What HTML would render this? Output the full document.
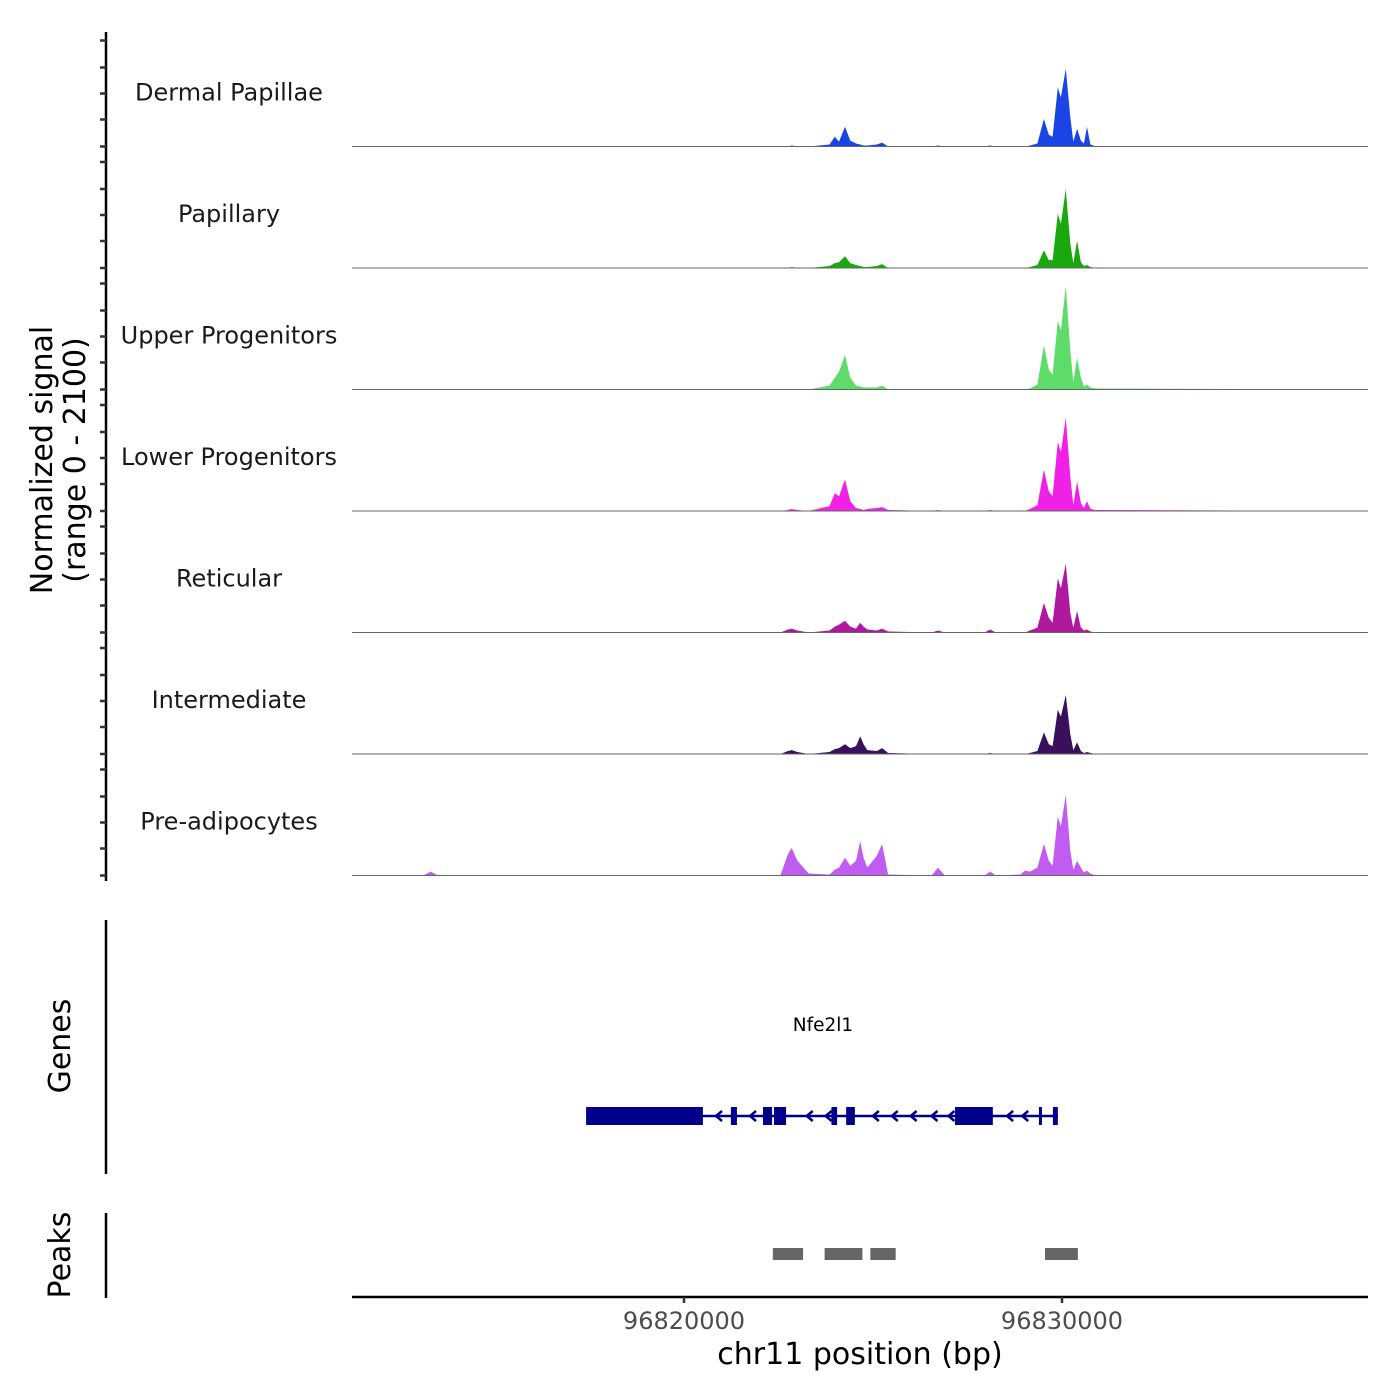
<!DOCTYPE html>
<html><head><meta charset="utf-8">
<style>
html,body{margin:0;padding:0;background:#fff;}
svg{display:block;font-family:"DejaVu Sans","Liberation Sans",sans-serif;}
</style></head>
<body>
<svg id="chart" width="1400" height="1400" viewBox="0 0 1400 1400" xmlns="http://www.w3.org/2000/svg">
<g id="tracks"></g>
<g id="genes"></g>
<g id="peaks"></g>
<g id="axes"></g>
</svg>
<script>
// ---- data ----
const regionStart = 96811217;
const regionEnd = 96838095;
const xTicks = [96820000, 96830000];
const xTickLabels = ["96820000", "96830000"];
const yMax = 2100;
const trackNames = ["Dermal Papillae","Papillary","Upper Progenitors","Lower Progenitors","Reticular","Intermediate","Pre-adipocytes"];
const trackColors = ["#1a44e4","#1aa80e","#5ddc6a","#f020e6","#b0189e","#3a0f5c","#c05cf2"];
// positions in kb relative to 96820000
const positionsKb = [-8.8,-6.9,-6.7,-6.5,2.55,2.75,2.85,3.0,3.3,3.85,3.99,4.1,4.26,4.4,4.55,4.66,4.75,4.85,5.1,5.24,5.4,6.55,6.72,6.9,7.95,8.1,8.25,8.9,9.02,9.15,9.35,9.52,9.65,9.75,9.89,9.97,10.1,10.22,10.3,10.4,10.5,10.58,10.66,10.75,10.9,18.1];
const sigDermal = [0,0,0,0,0,0,17,0,0,34,170,85,340,102,51,34,17,17,34,68,0,0,17,0,0,17,0,0,0,17,51,476,204,170,1020,850,1343,510,85,306,102,51,340,34,0,0];
const sigPapillary = [0,0,0,0,0,0,17,0,0,34,85,102,204,85,51,34,17,17,34,68,0,0,0,0,0,0,0,0,0,17,51,306,136,136,935,765,1360,425,85,476,102,34,51,17,0,0];
const sigUpper = [0,0,0,0,0,0,0,0,0,68,204,306,595,204,68,51,34,34,34,68,0,0,0,0,0,0,0,0,0,17,85,765,340,255,1190,1020,1785,680,136,544,204,51,85,34,17,0];
const sigLower = [0,0,0,0,0,17,34,17,0,85,306,255,544,170,51,34,17,34,51,68,17,0,17,0,0,17,0,0,0,34,102,714,340,255,1190,1020,1615,595,102,510,136,51,170,34,17,0];
const sigReticular = [0,0,0,0,0,51,68,34,0,34,102,136,204,102,68,170,102,51,34,68,17,0,34,0,0,51,0,0,0,34,85,510,255,170,935,765,1190,340,85,374,85,34,51,17,0,0];
const sigIntermediate = [0,0,0,0,0,51,68,34,0,34,85,102,170,102,136,306,170,68,51,102,17,0,0,0,0,17,0,0,0,17,51,374,170,136,765,646,1020,340,68,204,51,17,34,17,0,0];
const sigPreadipo = [0,0,68,0,0,374,476,255,34,17,102,136,306,170,255,595,306,136,340,544,17,0,136,0,0,68,0,17,85,68,136,544,255,170,1020,850,1394,425,102,255,136,51,85,34,0,0];
const signals = [sigDermal,sigPapillary,sigUpper,sigLower,sigReticular,sigIntermediate,sigPreadipo];
const geneName = "Nfe2l1";
const geneStart = 96817410, geneEnd = 96829890;
const exonStarts = [96817410,96821240,96822090,96822380,96823900,96824290,96827170,96829390,96829760];
const exonEnds   = [96820500,96821400,96822330,96822700,96824050,96824520,96828170,96829470,96829890];
const arrowPos = [96820900,96821800,96823300,96823800,96825050,96825550,96826050,96826600,96827050,96828600,96829000];
const peakStarts = [96822350,96823720,96824930,96829550];
const peakEnds   = [96823150,96824720,96825600,96830420];

// ---- layout ----
const NS = "http://www.w3.org/2000/svg";
const X0 = 352, X1 = 1368;
const xScale = bp => X0 + (bp - regionStart) / (regionEnd - regionStart) * (X1 - X0);
const panelTop = 25, panelH = 121.5;
const yScale = (v, i) => panelTop + (i+1)*panelH - v / yMax * panelH;
function mk(tag, attrs, parent){const e=document.createElementNS(NS,tag);for(const k in attrs)e.setAttribute(k,attrs[k]);parent.appendChild(e);return e;}

const tracks = document.getElementById('tracks');
signals.forEach((sig,i)=>{
  const base = yScale(0,i);
  let d = `M${xScale(regionStart)},${base}`;
  sig.forEach((v,j)=>{ d += ` L${xScale(96820000+positionsKb[j]*1000).toFixed(1)},${yScale(v,i).toFixed(1)}`; });
  d += ` L${xScale(regionEnd)},${base} Z`;
  const p = mk('path',{d, fill:trackColors[i], stroke:'none'},tracks);
  
  
  const bl = mk('line',{x1:X0,x2:X1,y1:base,y2:base,stroke:'#666','stroke-width':1},tracks);
  
  
  const t = mk('text',{x:229,y:base-46,'text-anchor':'middle','font-size':24,fill:'#1a1a1a'},tracks);
  t.textContent = trackNames[i];
  
  
});

// genes
const genes = document.getElementById('genes');
const gy = 1116;
let gl = mk('line',{x1:xScale(geneStart),x2:xScale(geneEnd),y1:gy,y2:gy,stroke:'#00008b','stroke-width':2.5},genes);


exonStarts.forEach((s,k)=>{
  const r = mk('rect',{x:xScale(s),y:gy-9,width:Math.max(2,xScale(exonEnds[k])-xScale(s)),height:18,fill:'#00008b'},genes);
  
  
});
arrowPos.forEach(a=>{
  const x = xScale(a);
  const ar = mk('path',{d:`M${x+4},${gy-5} L${x-2},${gy} L${x+4},${gy+5}`,fill:'none',stroke:'#00008b','stroke-width':2.5},genes);
  
  
});
const gt = mk('text',{x:823,y:1031,'text-anchor':'middle','font-size':18.5,fill:'#000'},genes);
gt.textContent = geneName;



// peaks
const peaks = document.getElementById('peaks');
peakStarts.forEach((s,k)=>{
  const r = mk('rect',{x:xScale(s),y:1248,width:xScale(peakEnds[k])-xScale(s),height:12,fill:'#666'},peaks);
  
  
});

// axes
const axes = document.getElementById('axes');
mk('line',{x1:106,x2:106,y1:32,y2:881,stroke:'#000','stroke-width':2.5},axes);
for(let i=0;i<7;i++){
  const b = yScale(0,i);
  [106,79,53,27,0].forEach(o=>mk('line',{x1:100,x2:106,y1:b-o,y2:b-o,stroke:'#333','stroke-width':2.5},axes));
}
mk('line',{x1:106,x2:106,y1:920,y2:1174,stroke:'#000','stroke-width':2.5},axes);
mk('line',{x1:106,x2:106,y1:1213,y2:1298,stroke:'#000','stroke-width':2.5},axes);
mk('line',{x1:X0,x2:X1,y1:1297,y2:1297,stroke:'#000','stroke-width':2.5},axes);
xTicks.forEach((t,k)=>{
  const x = xScale(t);
  mk('line',{x1:x,x2:x,y1:1297,y2:1303,stroke:'#333','stroke-width':2.5},axes);
  const lab = mk('text',{x,y:1329,'text-anchor':'middle','font-size':24,fill:'#4d4d4d'},axes);
  lab.textContent = xTickLabels[k];
  
  
});
const xt = mk('text',{x:860,y:1364,'text-anchor':'middle','font-size':30,fill:'#000'},axes);
xt.textContent = 'chr11 position (bp)';


const yt = mk('text',{transform:'translate(52,460) rotate(-90)','text-anchor':'middle','font-size':30,fill:'#000'},axes);


const t1 = mk('tspan',{x:0,dy:0},yt); t1.textContent='Normalized signal';
const t2 = mk('tspan',{x:0,dy:33},yt); t2.textContent='(range 0 - 2100)';
const gT = mk('text',{transform:'translate(70,1046) rotate(-90)','text-anchor':'middle','font-size':30,fill:'#000'},axes);
gT.textContent='Genes';


const pT = mk('text',{transform:'translate(70,1255) rotate(-90)','text-anchor':'middle','font-size':30,fill:'#000'},axes);
pT.textContent='Peaks';


</script>
</body></html>
